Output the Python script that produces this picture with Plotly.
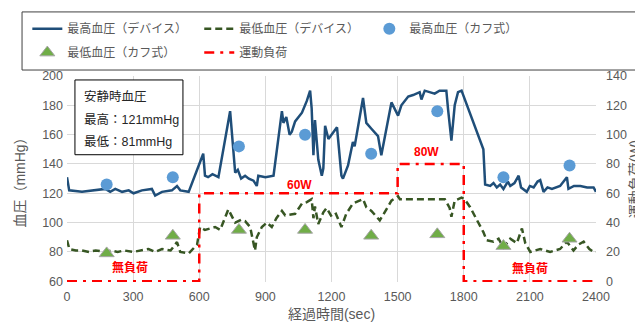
import plotly.graph_objects as go

# ---- data ----
sys_dev_t = [0, 10, 68, 128, 174, 196, 219, 250, 280, 302, 340, 385, 400, 431, 476, 499, 514, 552,
             618, 626, 640, 660, 687, 740, 763, 775, 790, 808, 825, 846, 861, 868, 900, 937,
             975, 982, 995, 1010, 1020, 1035, 1066, 1088, 1103, 1110, 1118, 1125, 1140, 1156, 1163,
             1171, 1186, 1225, 1245, 1252, 1275, 1297, 1305, 1343, 1358, 1381, 1411, 1426, 1472,
             1502, 1517, 1548, 1570, 1600, 1608, 1623, 1650, 1668, 1690, 1721, 1729, 1744, 1759,
             1774, 1790, 1889, 1897, 1920, 1935, 1950, 1965, 1980, 2000, 2011, 2030, 2049, 2060,
             2086, 2100, 2117, 2135, 2147, 2162, 2180, 2200, 2237, 2268, 2275, 2300, 2329, 2360,
             2389, 2400]
sys_dev_v = [131, 122, 121, 122, 123, 121, 123, 121, 122, 120, 122, 123, 118.5, 121, 122, 125, 122, 121,
             147, 132, 131, 133, 131, 176, 134, 136, 130, 132, 130, 128.6, 125, 132, 131, 132,
             176, 168, 172, 160, 162, 169, 175, 183, 190, 178, 146, 170, 143, 132, 137,
             166, 157, 165, 132, 130, 139, 155, 152, 185, 168, 164, 159, 146, 182,
             173, 180, 186, 187, 189, 184, 190, 189, 188, 190, 190, 177, 156, 180,
             189, 190, 150, 126, 125, 127, 124, 126, 123, 128, 125, 127, 132, 124,
             121, 125, 124, 128, 129, 121, 124, 123, 125, 131, 123, 125, 125, 124,
             124, 121]

dia_dev_t = [0, 11, 40, 68, 100, 130, 174, 200, 230, 260, 300, 340, 370, 400, 431, 470, 499, 514, 552,
             590, 604, 626, 650, 672, 695, 732, 763, 790, 808, 831, 853, 861, 884, 907, 929, 950,
             975, 990, 1035, 1066, 1088, 1110, 1118, 1125, 1140, 1163, 1178, 1201, 1220, 1245, 1267,
             1297, 1343, 1358, 1381, 1419, 1441, 1472, 1502, 1510, 1563, 1638, 1714, 1736, 1744,
             1759, 1790, 1804, 1829, 1889, 1904, 1935, 1958, 1980, 2011, 2041, 2064, 2079, 2102,
             2147, 2192, 2237, 2268, 2298, 2320, 2344, 2370, 2389, 2400]
dia_dev_v = [88, 82, 81, 81, 80, 81, 80, 81, 80, 81, 80, 81, 82, 80, 82, 81, 86.7, 80, 79,
             85, 97, 95, 96, 97, 95, 109, 100, 102, 101, 97, 81, 90, 97, 100, 97, 103,
             108, 105, 106, 113, 114, 116, 103, 111, 99, 107, 110, 104, 106, 97, 106,
             113, 116, 110.5, 108, 101.5, 107, 115, 118, 116, 116, 116, 116, 110, 104,
             115, 117, 116, 110.5, 93.5, 88, 87, 89, 83, 89, 86, 96, 86, 80,
             82, 80, 82, 87, 81, 85, 87, 82, 80, 80]

cuff_t = [180, 480, 780, 1080, 1380, 1680, 1980, 2280]
cuff_sys = [126, 131, 152, 160, 147, 176, 131, 139]
cuff_dia = [79, 91, 95, 95, 91, 92, 84, 89]

load_t = [0, 600, 600, 1500, 1500, 1800, 1800, 2400]
load_w = [0, 0, 60, 60, 80, 80, 0, 0]

x_ticks = [0, 300, 600, 900, 1200, 1500, 1800, 2100, 2400]

GRAY = "#595959"
FONT = "Liberation Sans, Noto Sans CJK JP, sans-serif"

fig = go.Figure()
fig.add_trace(go.Scatter(x=sys_dev_t, y=sys_dev_v, mode="lines", name="最高血圧（デバイス）",
                         line=dict(color="#1F4E79", width=2.5), legend="legend"))
fig.add_trace(go.Scatter(x=dia_dev_t, y=dia_dev_v, mode="lines", name="最低血圧（デバイス）",
                         line=dict(color="#375623", width=2.5, dash="7px,4px"), legend="legend2"))
fig.add_trace(go.Scatter(x=cuff_t, y=cuff_sys, mode="markers", name="最高血圧（カフ式）",
                         marker=dict(color="#5B9BD5", size=12, symbol="circle"), legend="legend3"))
fig.add_trace(go.Scatter(x=cuff_t, y=cuff_dia, mode="markers", name="最低血圧（カフ式）",
                         marker=dict(color="#70AD47", size=13, symbol="triangle-up",
                                     line=dict(color="#A5A5A5", width=1)), legend="legend4"))
fig.add_trace(go.Scatter(x=load_t, y=load_w, mode="lines", name="運動負荷", yaxis="y2",
                         line=dict(color="#FF0000", width=2.5, dash="10px,6px,3px,6px"),
                         legend="legend5"))

# legend frame (extends beyond right edge as in reference)
fig.add_shape(type="rect", xref="paper", yref="paper", x0=-0.085, x1=1.13, y0=1.029, y1=1.311,
              line=dict(color="#404040", width=1), fillcolor="rgba(0,0,0,0)", layer="above")

# resting BP box
fig.add_shape(type="rect", xref="x", yref="y", x0=36, x1=526, y0=146.3, y1=197.3,
              line=dict(color="#000000", width=1), fillcolor="white", layer="above")
for txt, yy in [("安静時血圧", 185.7), ("最高：121mmHg", 170.3), ("最低：81mmHg", 155.2)]:
    fig.add_annotation(x=68, y=yy, xref="x", yref="y", text=txt, showarrow=False,
                       xanchor="left", yanchor="middle", font=dict(size=12.5, color="#262626"))

for txt, xx, yy in [("無負荷", 286, 69.5), ("無負荷", 2100, 68.5), ("60W", 1057, 125.5), ("80W", 1633, 148.5)]:
    fig.add_annotation(x=xx, y=yy, xref="x", yref="y", text="<b>" + txt + "</b>", showarrow=False,
                       font=dict(size=12, color="#FF0000"))

lc = dict(orientation="v", xanchor="left", yanchor="top", bgcolor="rgba(0,0,0,0)",
          font=dict(size=12, color=GRAY), borderwidth=0)

fig.update_layout(
    width=635, height=316,
    margin=dict(l=59, r=47, t=68, b=42, autoexpand=False),
    paper_bgcolor="white", plot_bgcolor="white",
    font=dict(family=FONT, color=GRAY, size=12),
    showlegend=True,
    legend=dict(x=-0.075, y=1.30, **lc),
    legend2=dict(x=0.250, y=1.30, **lc),
    legend3=dict(x=0.5715, y=1.30, **lc),
    legend4=dict(x=-0.075, y=1.184, **lc),
    legend5=dict(x=0.250, y=1.184, **lc),
    xaxis=dict(range=[0, 2400], tickvals=x_ticks, showgrid=True, gridcolor="#D9D9D9",
               zeroline=False, showline=False, ticks="", tickfont=dict(size=12.5, color=GRAY),
               ticklabelstandoff=5,
               title=dict(text="経過時間(sec)", font=dict(size=14, color=GRAY), standoff=6)),
    yaxis=dict(range=[59.5, 200], tickvals=[60, 80, 100, 120, 140, 160, 180, 200],
               showgrid=True, gridcolor="#D9D9D9", zeroline=False, showline=False, ticks="",
               tickfont=dict(size=12.5, color=GRAY), ticklabelstandoff=3,
               title=dict(text="血圧（mmHg）", font=dict(size=14, color=GRAY), standoff=13)),
    yaxis2=dict(range=[-0.5, 140], tickvals=[0, 20, 40, 60, 80, 100, 120, 140], overlaying="y",
                side="right", showgrid=False, zeroline=False, showline=False, ticks="",
                tickfont=dict(size=12.5, color=GRAY), ticklabelstandoff=9,
                title=dict(text="運動負荷(W)", font=dict(size=14, color=GRAY), standoff=6)),
)

fig.write_html("out.html")
